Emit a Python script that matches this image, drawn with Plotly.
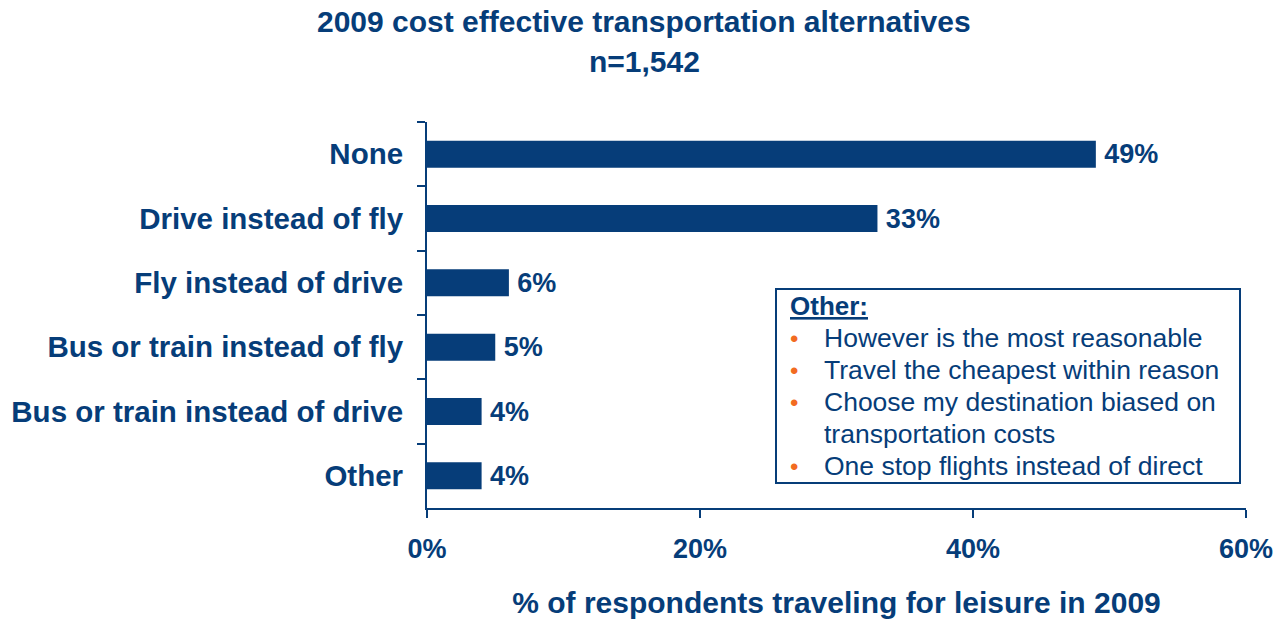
import plotly.graph_objects as go

# data
categories = ["None", "Drive instead of fly", "Fly instead of drive",
              "Bus or train instead of fly", "Bus or train instead of drive", "Other"]
shares = [49, 33, 6, 5, 4, 4]
x_ticks = [0, 20, 40, 60]
x_tick_labels = ["0%", "20%", "40%", "60%"]
other_lines = ["However is the most reasonable", "Travel the cheapest within reason",
               "Choose my destination biased on", "transportation costs",
               "One stop flights instead of direct"]
other_bullets = [True, True, True, False, True]

NAVY = "#063D79"
ORANGE = "#F26B21"
FONT = "Liberation Sans, Arial, sans-serif"

# plot area in window pixels
PX0, PX1, PY0, PY1 = 427, 1246, 122, 508
W, H = 1280, 619


def px(x):
    return (x - PX0) / (PX1 - PX0)


def py(y):
    return (PY1 - y) / (PY1 - PY0)


fig = go.Figure()
fig.add_trace(go.Bar(
    x=shares, y=categories, orientation="h",
    marker=dict(color=NAVY, line_width=0),
    width=0.42,
    text=[f"\u2009{v}%" for v in shares], textposition="outside",
    constraintext="none",
    textfont=dict(family=FONT, size=27, color=NAVY, weight="bold"),
    cliponaxis=False,
))

fig.update_layout(
    width=W, height=H,
    margin=dict(l=PX0, r=W - PX1, t=PY0, b=H - PY1),
    plot_bgcolor="white", paper_bgcolor="white",
    showlegend=False,
    font=dict(family=FONT, color=NAVY),
)

fig.update_xaxes(
    range=[0, 60], tickvals=x_ticks, ticktext=x_tick_labels,
    automargin=False, ticklabeloverflow="allow",
    showgrid=False, zeroline=False,
    showline=True, linecolor=NAVY, linewidth=2,
    ticks="outside", ticklen=8, tickwidth=2, tickcolor=NAVY,
    ticklabelstandoff=8,
    tickfont=dict(family=FONT, size=27, color=NAVY, weight="bold"),
    title=dict(text="% of respondents traveling for leisure in 2009", standoff=35,
               font=dict(family=FONT, size=30, color=NAVY, weight="bold")),
)
fig.update_yaxes(
    categoryorder="array", categoryarray=categories, autorange="reversed",
    automargin=False,
    showgrid=False, zeroline=False,
    showline=True, linecolor=NAVY, linewidth=2,
    ticks="outside", ticklen=8, tickwidth=2, tickcolor=NAVY,
    tickson="boundaries", ticklabelstandoff=16,
    tickfont=dict(family=FONT, size=29.5, color=NAVY, weight="bold"),
)

# title
for txt, yy in [("2009 cost effective transportation alternatives", 22), ("n=1,542", 61)]:
    fig.add_annotation(text=f"<b>{txt}</b>",
                       xref="paper", yref="paper", x=px(644), y=py(yy),
                       xanchor="center", yanchor="middle", showarrow=False,
                       font=dict(family=FONT, size=30, color=NAVY))

# "Other" note box
fig.add_shape(type="rect", xref="paper", yref="paper",
              x0=px(776), x1=px(1240), y0=py(483), y1=py(289),
              line=dict(color=NAVY, width=2), fillcolor="white")
fig.add_annotation(text="<b><u>Other:</u></b>", xref="paper", yref="paper",
                   x=px(788), y=py(306),
                   xanchor="left", yanchor="middle", showarrow=False,
                   font=dict(family=FONT, size=26, color=NAVY))
for i, (line, bullet) in enumerate(zip(other_lines, other_bullets)):
    yy = py(338 + 32 * i)
    if bullet:
        fig.add_annotation(text="•", xref="paper", yref="paper",
                           x=px(788), y=yy,
                           xanchor="left", yanchor="middle", showarrow=False,
                           font=dict(family=FONT, size=24, color=ORANGE))
    fig.add_annotation(text=line, xref="paper", yref="paper",
                       x=px(822), y=yy,
                       xanchor="left", yanchor="middle", showarrow=False,
                       font=dict(family=FONT, size=26.5, color=NAVY))

# drop the default page margin so the figure fills the window exactly
fig.write_html("out.html", config={"displayModeBar": False},
               post_script="document.body.style.margin='0';")
